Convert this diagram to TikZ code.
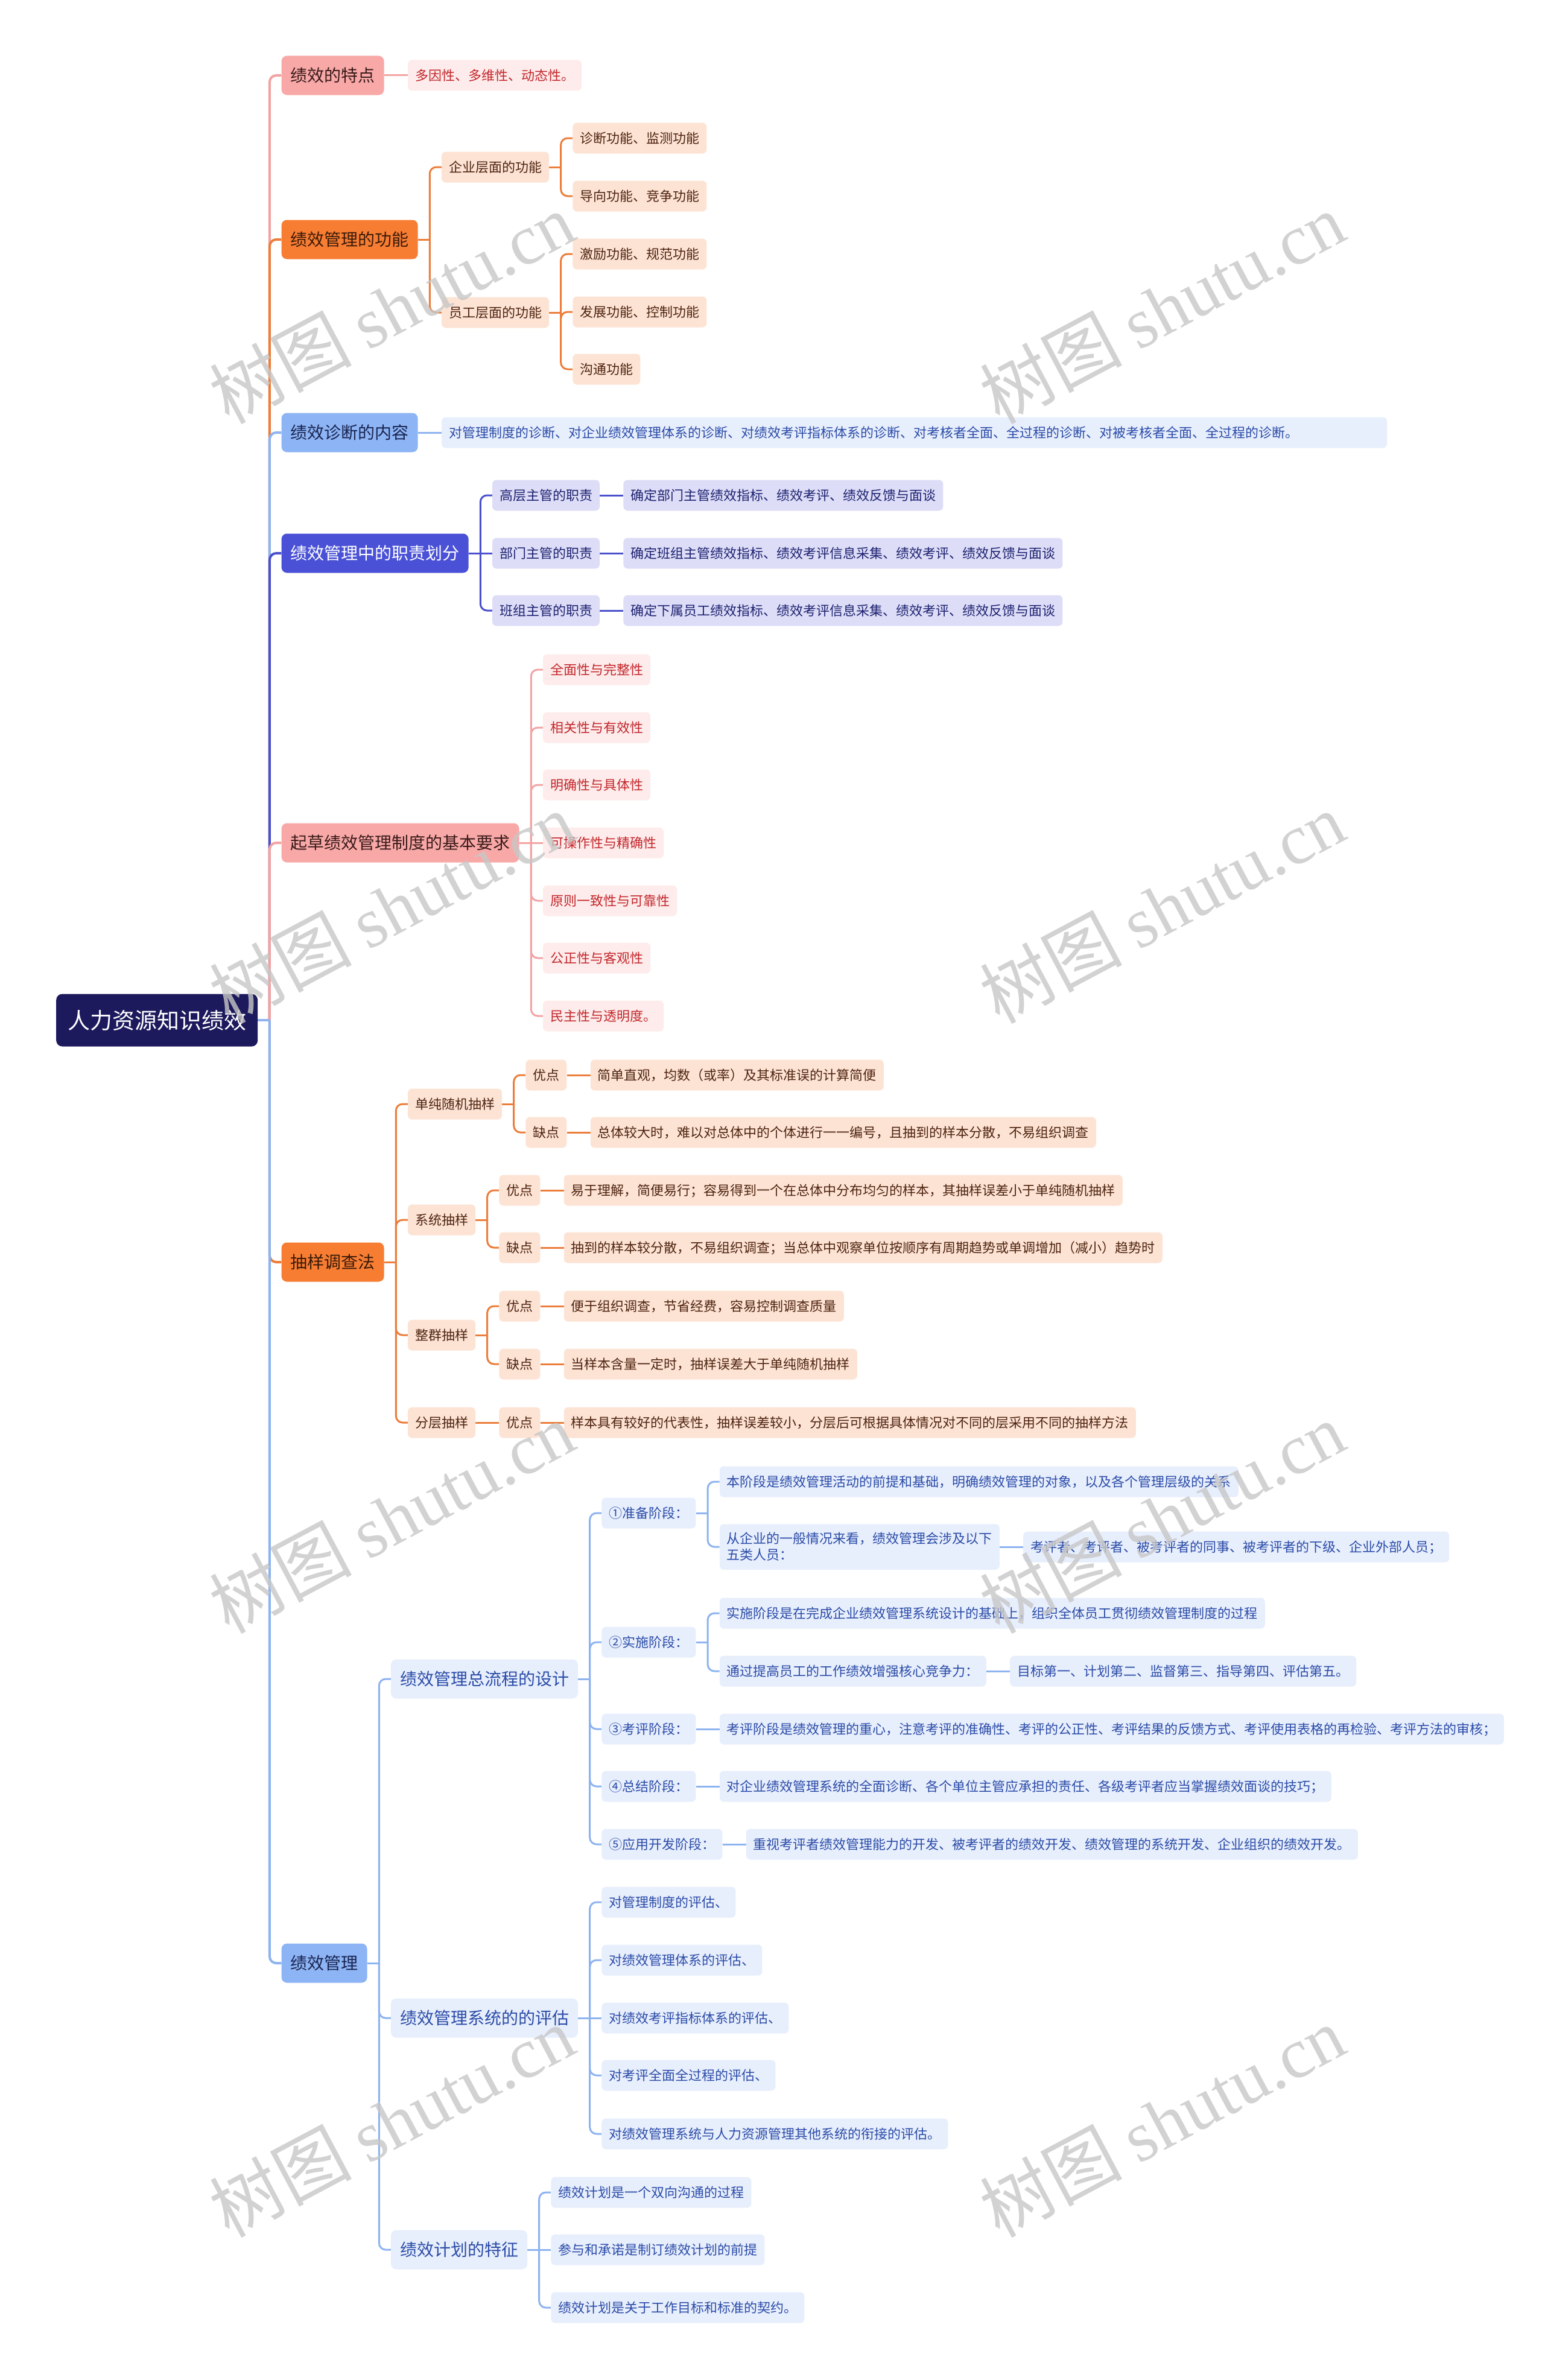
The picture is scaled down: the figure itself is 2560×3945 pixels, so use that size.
\documentclass[tikz,border=0pt]{standalone}
\usepackage{fontspec}
\setmainfont{Noto Sans CJK SC}
\newfontfamily\wmserif{Liberation Serif}
\usetikzlibrary{calc}
\pgfdeclarelayer{bg}
\pgfdeclarelayer{background}
\pgfdeclarelayer{fg}
\pgfsetlayers{bg,background,main,fg}
\definecolor{rootc}{HTML}{1C1A5C}
\definecolor{pkB}{HTML}{F8A9A7}
\definecolor{pkLn}{HTML}{F2A3A3}
\definecolor{pkLf}{HTML}{FDECEB}
\definecolor{pkTx}{HTML}{C4262C}
\definecolor{pkBT}{HTML}{3A1A1A}
\definecolor{orB}{HTML}{F77D33}
\definecolor{orLn}{HTML}{EC7D3A}
\definecolor{orLf}{HTML}{FDE3D4}
\definecolor{orTx}{HTML}{4E2410}
\definecolor{orBT}{HTML}{3A1A08}
\definecolor{buB}{HTML}{8DB4F5}
\definecolor{buLn}{HTML}{8DB3F0}
\definecolor{buLf}{HTML}{E7EEFC}
\definecolor{buTx}{HTML}{2B4CA8}
\definecolor{buBT}{HTML}{1A2550}
\definecolor{inB}{HTML}{4A51D6}
\definecolor{inLn}{HTML}{4A50CC}
\definecolor{inLf}{HTML}{DDDDF7}
\definecolor{inTx}{HTML}{1E2270}
\tikzset{
  base/.style={anchor=west, inner ysep=0pt},
  leaf/.style={base, rounded corners=7pt, inner xsep=12pt, minimum height=51pt,
    text height=19.4pt, text depth=2.6pt, font=\fontsize{22}{28}\selectfont},
  big/.style={base, rounded corners=9pt, inner xsep=15pt, minimum height=65pt,
    text height=24.6pt, text depth=3.4pt, font=\fontsize{28}{34}\selectfont},
  twoline/.style={base, rounded corners=7pt, inner xsep=12pt, inner ysep=14pt,
    align=left, font=\fontsize{22}{27}\selectfont},
  rootst/.style={base, rounded corners=10pt, inner xsep=19pt, minimum height=87pt,
    text height=32.6pt, text depth=4.4pt, font=\fontsize{37}{44}\selectfont,
    fill=rootc, text=white},
  pkBst/.style={big, fill=pkB, text=pkBT},
  pkLfst/.style={leaf, fill=pkLf, text=pkTx},
  orBst/.style={big, fill=orB, text=orBT},
  orLfst/.style={leaf, fill=orLf, text=orTx},
  orMid/.style={leaf, fill=orLf, text=orTx},
  buBst/.style={big, fill=buB, text=buBT},
  buBig/.style={big, fill=buLf, text=buTx},
  buLfst/.style={leaf, fill=buLf, text=buTx},
  inBst/.style={big, fill=inB, text=white},
  inLfst/.style={leaf, fill=inLf, text=inTx},
  wmst/.style={text=black!22, text opacity=0.8, inner sep=0pt,
    font=\fontsize{118}{120}\selectfont, rotate=28},
}
\newcommand\kid[5]{\path (#3.east) ++(39pt,0) coordinate (tmp);
  \node[#1] (#2) at (tmp |- 0,#4) {#5};}
\newcommand\lnk[4][3pt]{%
  \path (#3.east) -- (#3.east -| #4.west) coordinate[pos=.5] (jj);
  \draw[line width=#1, draw=#2] (#3.east) -- (jj);
  \pgfpointanchor{#3}{east}\pgfgetlastxy{\lnax}{\lnay}%
  \pgfpointanchor{#4}{west}\pgfgetlastxy{\lnbx}{\lnby}%
  \pgfmathsetmacro\lndd{abs(\lnay-\lnby)}%
  \ifdim\lndd pt<1pt
    \draw[line width=#1, draw=#2] (jj) -- (#4.west);
  \else
    \draw[line width=#1, draw=#2, rounded corners=11pt] (jj) |- (#4.west);
  \fi}
\begin{document}
\begin{tikzpicture}[x=1pt, y=-1pt]
\useasboundingbox (0,0) rectangle (2560,3945);
\begin{pgfonlayer}{bg}
\fill[white] (0,0) rectangle (2560,3945);
\end{pgfonlayer}

\node[rootst] (R) at (93,1691) {人力资源知识绩效};

% branch 1
\kid{pkBst}{b1}{R}{125}{绩效的特点}
\kid{pkLfst}{b1a}{b1}{125}{多因性、多维性、动态性。}
% branch 2
\kid{orBst}{b2}{R}{397}{绩效管理的功能}
\kid{orMid}{b2a}{b2}{277}{企业层面的功能}
\kid{orLfst}{b2a1}{b2a}{229}{诊断功能、监测功能}
\kid{orLfst}{b2a2}{b2a}{325}{导向功能、竞争功能}
\kid{orMid}{b2b}{b2}{518}{员工层面的功能}
\kid{orLfst}{b2b1}{b2b}{421}{激励功能、规范功能}
\kid{orLfst}{b2b2}{b2b}{517}{发展功能、控制功能}
\kid{orLfst}{b2b3}{b2b}{612}{沟通功能}
% branch 3
\kid{buBst}{b3}{R}{717}{绩效诊断的内容}
\kid{buLfst, text width=1543pt, align=left}{b3a}{b3}{717}{对管理制度的诊断、对企业绩效管理体系的诊断、对绩效考评指标体系的诊断、对考核者全面、全过程的诊断、对被考核者全面、全过程的诊断。}
% branch 4
\kid{inBst}{b4}{R}{917}{绩效管理中的职责划分}
\kid{inLfst}{b4a}{b4}{821}{高层主管的职责}
\kid{inLfst}{b4a1}{b4a}{821}{确定部门主管绩效指标、绩效考评、绩效反馈与面谈}
\kid{inLfst}{b4b}{b4}{917}{部门主管的职责}
\kid{inLfst}{b4b1}{b4b}{917}{确定班组主管绩效指标、绩效考评信息采集、绩效考评、绩效反馈与面谈}
\kid{inLfst}{b4c}{b4}{1012}{班组主管的职责}
\kid{inLfst}{b4c1}{b4c}{1012}{确定下属员工绩效指标、绩效考评信息采集、绩效考评、绩效反馈与面谈}
% branch 5
\kid{pkBst}{b5}{R}{1397}{起草绩效管理制度的基本要求}
\kid{pkLfst}{c1}{b5}{1110}{全面性与完整性}
\kid{pkLfst}{c2}{b5}{1206}{相关性与有效性}
\kid{pkLfst}{c3}{b5}{1301}{明确性与具体性}
\kid{pkLfst}{c4}{b5}{1397}{可操作性与精确性}
\kid{pkLfst}{c5}{b5}{1493}{原则一致性与可靠性}
\kid{pkLfst}{c6}{b5}{1588}{公正性与客观性}
\kid{pkLfst}{c7}{b5}{1684}{民主性与透明度。}
% branch 6
\kid{orBst}{b6}{R}{2092}{抽样调查法}
\kid{orMid}{b6a}{b6}{1830}{单纯随机抽样}
\kid{orLfst}{b6a1}{b6a}{1782}{优点}
\kid{orLfst}{b6a1x}{b6a1}{1782}{简单直观，均数（或率）及其标准误的计算简便}
\kid{orLfst}{b6a2}{b6a}{1877}{缺点}
\kid{orLfst}{b6a2x}{b6a2}{1877}{总体较大时，难以对总体中的个体进行一一编号，且抽到的样本分散，不易组织调查}
\kid{orMid}{b6b}{b6}{2022}{系统抽样}
\kid{orLfst}{b6b1}{b6b}{1973}{优点}
\kid{orLfst}{b6b1x}{b6b1}{1973}{易于理解，简便易行；容易得到一个在总体中分布均匀的样本，其抽样误差小于单纯随机抽样}
\kid{orLfst}{b6b2}{b6b}{2068}{缺点}
\kid{orLfst}{b6b2x}{b6b2}{2068}{抽到的样本较分散，不易组织调查；当总体中观察单位按顺序有周期趋势或单调增加（减小）趋势时}
\kid{orMid}{b6c}{b6}{2213}{整群抽样}
\kid{orLfst}{b6c1}{b6c}{2165}{优点}
\kid{orLfst}{b6c1x}{b6c1}{2165}{便于组织调查，节省经费，容易控制调查质量}
\kid{orLfst}{b6c2}{b6c}{2261}{缺点}
\kid{orLfst}{b6c2x}{b6c2}{2261}{当样本含量一定时，抽样误差大于单纯随机抽样}
\kid{orMid}{b6d}{b6}{2358}{分层抽样}
\kid{orLfst}{b6d1}{b6d}{2358}{优点}
\kid{orLfst}{b6d1x}{b6d1}{2358}{样本具有较好的代表性，抽样误差较小，分层后可根据具体情况对不同的层采用不同的抽样方法}
% branch 7
\kid{buBst}{b7}{R}{3254}{绩效管理}
\kid{buBig}{b7a}{b7}{2783}{绩效管理总流程的设计}
\kid{buLfst}{s1}{b7a}{2508}{①准备阶段：}
\kid{buLfst}{s1a}{s1}{2456}{本阶段是绩效管理活动的前提和基础，明确绩效管理的对象，以及各个管理层级的关系}
\kid{twoline, fill=buLf, text=buTx}{s1b}{s1}{2564}{从企业的一般情况来看，绩效管理会涉及以下\\五类人员：}
\kid{buLfst}{s1b1}{s1b}{2564}{考评者、考评者、被考评者的同事、被考评者的下级、企业外部人员；}
\kid{buLfst}{s2}{b7a}{2722}{②实施阶段：}
\kid{buLfst}{s2a}{s2}{2674}{实施阶段是在完成企业绩效管理系统设计的基础上，组织全体员工贯彻绩效管理制度的过程}
\kid{buLfst}{s2b}{s2}{2770}{通过提高员工的工作绩效增强核心竞争力：}
\kid{buLfst}{s2b1}{s2b}{2770}{目标第一、计划第二、监督第三、指导第四、评估第五。}
\kid{buLfst}{s3}{b7a}{2866}{③考评阶段：}
\kid{buLfst}{s3a}{s3}{2866}{考评阶段是绩效管理的重心，注意考评的准确性、考评的公正性、考评结果的反馈方式、考评使用表格的再检验、考评方法的审核；}
\kid{buLfst}{s4}{b7a}{2961}{④总结阶段：}
\kid{buLfst}{s4a}{s4}{2961}{对企业绩效管理系统的全面诊断、各个单位主管应承担的责任、各级考评者应当掌握绩效面谈的技巧；}
\kid{buLfst}{s5}{b7a}{3057}{⑤应用开发阶段：}
\kid{buLfst}{s5a}{s5}{3057}{重视考评者绩效管理能力的开发、被考评者的绩效开发、绩效管理的系统开发、企业组织的绩效开发。}
\kid{buBig}{b7b}{b7}{3345}{绩效管理系统的的评估}
\kid{buLfst}{e1}{b7b}{3153}{对管理制度的评估、}
\kid{buLfst}{e2}{b7b}{3249}{对绩效管理体系的评估、}
\kid{buLfst}{e3}{b7b}{3345}{对绩效考评指标体系的评估、}
\kid{buLfst}{e4}{b7b}{3440}{对考评全面全过程的评估、}
\kid{buLfst}{e5}{b7b}{3537}{对绩效管理系统与人力资源管理其他系统的衔接的评估。}
\kid{buBig}{b7c}{b7}{3729}{绩效计划的特征}
\kid{buLfst}{p1}{b7c}{3634}{绩效计划是一个双向沟通的过程}
\kid{buLfst}{p2}{b7c}{3729}{参与和承诺是制订绩效计划的前提}
\kid{buLfst}{p3}{b7c}{3825}{绩效计划是关于工作目标和标准的契约。}

\begin{pgfonlayer}{background}
\lnk[4pt]{pkLn}{R}{b1}
\lnk[4pt]{orLn}{R}{b2}
\lnk[4pt]{buLn}{R}{b3}
\lnk[4pt]{inLn}{R}{b4}
\lnk[4pt]{pkLn}{R}{b5}
\lnk[4pt]{orLn}{R}{b6}
\lnk[4pt]{buLn}{R}{b7}
\lnk{pkLn}{b1}{b1a}
\lnk{orLn}{b2}{b2a}\lnk{orLn}{b2}{b2b}
\lnk{orLn}{b2a}{b2a1}\lnk{orLn}{b2a}{b2a2}
\lnk{orLn}{b2b}{b2b1}\lnk{orLn}{b2b}{b2b2}\lnk{orLn}{b2b}{b2b3}
\lnk{buLn}{b3}{b3a}
\lnk{inLn}{b4}{b4a}\lnk{inLn}{b4}{b4b}\lnk{inLn}{b4}{b4c}
\lnk{inLn}{b4a}{b4a1}\lnk{inLn}{b4b}{b4b1}\lnk{inLn}{b4c}{b4c1}
\foreach \c in {c1,c2,c3,c4,c5,c6,c7}{\lnk{pkLn}{b5}{\c}}
\foreach \c in {b6a,b6b,b6c,b6d}{\lnk{orLn}{b6}{\c}}
\lnk{orLn}{b6a}{b6a1}\lnk{orLn}{b6a}{b6a2}
\lnk{orLn}{b6b}{b6b1}\lnk{orLn}{b6b}{b6b2}
\lnk{orLn}{b6c}{b6c1}\lnk{orLn}{b6c}{b6c2}
\lnk{orLn}{b6d}{b6d1}
\foreach \c in {b6a1,b6a2,b6b1,b6b2,b6c1,b6c2,b6d1}{\lnk{orLn}{\c}{\c x}}
\foreach \c in {b7a,b7b,b7c}{\lnk{buLn}{b7}{\c}}
\foreach \c in {s1,s2,s3,s4,s5}{\lnk{buLn}{b7a}{\c}}
\lnk{buLn}{s1}{s1a}\lnk{buLn}{s1}{s1b}\lnk{buLn}{s1b}{s1b1}
\lnk{buLn}{s2}{s2a}\lnk{buLn}{s2}{s2b}\lnk{buLn}{s2b}{s2b1}
\lnk{buLn}{s3}{s3a}\lnk{buLn}{s4}{s4a}\lnk{buLn}{s5}{s5a}
\foreach \c in {e1,e2,e3,e4,e5}{\lnk{buLn}{b7b}{\c}}
\foreach \c in {p1,p2,p3}{\lnk{buLn}{b7c}{\c}}
\end{pgfonlayer}

\begin{pgfonlayer}{fg}
\foreach \wx/\wy in {649/510,1926/510,649/1504,1926/1504,649/2515,1926/2515,649/3516,1926/3516}
  {\node[wmst] at (\wx,\wy) {树图 {\wmserif shutu.cn}};}
\end{pgfonlayer}
\end{tikzpicture}
\end{document}
